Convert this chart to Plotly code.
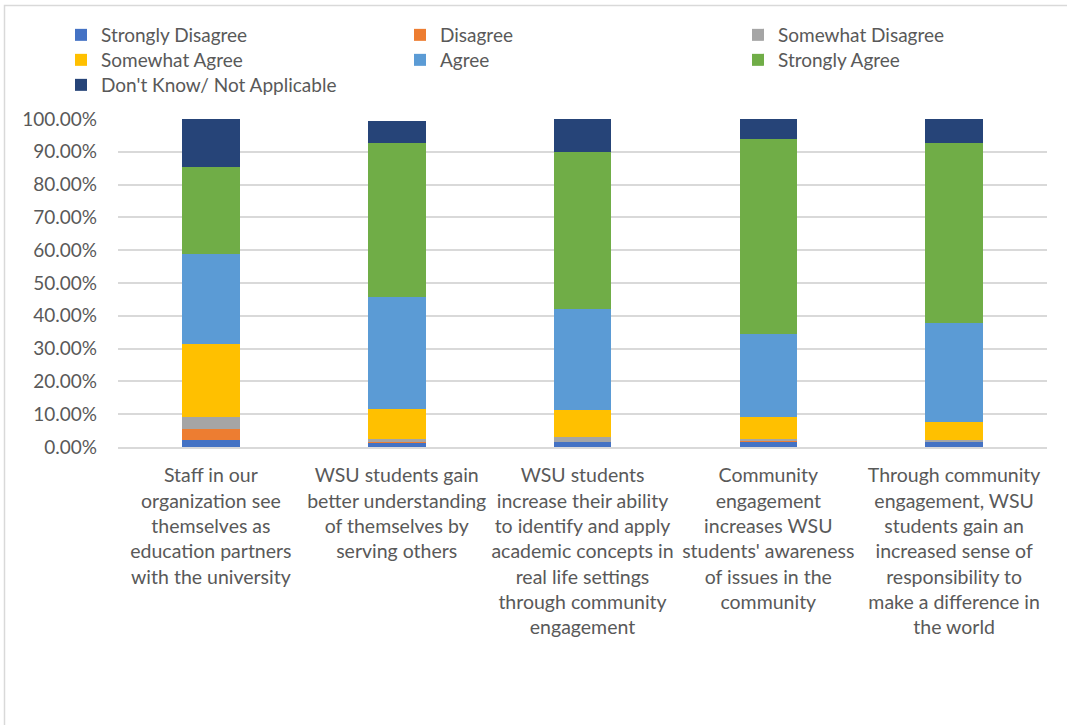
import plotly.graph_objects as go

# Survey statements (x categories)
categories = [
    "Staff in our<br>organization see<br>themselves as<br>education partners<br>with the university",
    "WSU students gain<br>better understanding<br>of themselves by<br>serving others",
    "WSU students<br>increase their ability<br>to identify and apply<br>academic concepts in<br>real life settings<br>through community<br>engagement",
    "Community<br>engagement<br>increases WSU<br>students' awareness<br>of issues in the<br>community",
    "Through community<br>engagement, WSU<br>students gain an<br>increased sense of<br>responsibility to<br>make a difference in<br>the world",
]

# Share of responses per statement (percent)
strongly_disagree = [2.2, 1.3, 1.6, 1.6, 1.6]
disagree = [3.2, 0.5, 0.0, 0.3, 0.0]
somewhat_disagree = [3.6, 0.5, 1.5, 0.6, 0.6]
somewhat_agree = [22.5, 9.2, 8.2, 6.7, 5.5]
agree = [27.4, 34.2, 30.8, 25.4, 30.1]
strongly_agree = [26.4, 47.0, 47.8, 59.4, 54.8]
dont_know = [14.7, 6.7, 10.1, 6.0, 7.4]

series = [
    ("Strongly Disagree", strongly_disagree, "#4472C4"),
    ("Disagree", disagree, "#ED7D31"),
    ("Somewhat Disagree", somewhat_disagree, "#A5A5A5"),
    ("Somewhat Agree", somewhat_agree, "#FFC000"),
    ("Agree", agree, "#5B9BD5"),
    ("Strongly Agree", strongly_agree, "#70AD47"),
    ("Don't Know/ Not Applicable", dont_know, "#264478"),
]

FONT = "Lato"
TXT = "#595959"

# plot-area pixel geometry
W, H = 1067, 725
L, R, T, B = 118, 20, 119, 278
pw, ph = W - L - R, H - T - B


def px_x(p):
    return (p - L) / pw


def px_y(p):
    return (H - B - p) / ph


# legend grid: three columns, rows wrap left to right
col_left = [61, 400, 738]
row_top = [16, 41, 66]

fig = go.Figure()
legends = {}
for i, (name, vals, color) in enumerate(series):
    key = "legend" if i == 0 else f"legend{i + 1}"
    fig.add_trace(go.Bar(
        name=name,
        x=categories,
        y=[v / 100 for v in vals],
        marker=dict(color=color, line=dict(width=0)),
        legend=key,
        showlegend=True,
    ))
    legends[key] = dict(
        orientation="v",
        x=px_x(col_left[i % 3]), y=px_y(row_top[i // 3]),
        xanchor="left", yanchor="top",
        font=dict(family=FONT, size=19, color=TXT),
        itemwidth=30,
        bgcolor="rgba(0,0,0,0)",
    )

fig.update_layout(
    width=W, height=H,
    showlegend=True,
    barmode="stack",
    bargap=0.69,
    plot_bgcolor="white",
    paper_bgcolor="white",
    margin=dict(l=L, r=R, t=T, b=B, pad=0),
    font=dict(family=FONT, color=TXT, size=17),
    xaxis=dict(
        showgrid=False,
        showline=True, linecolor="#d9d9d9", linewidth=1.5,
        ticks="", tickangle=0,
        tickfont=dict(family=FONT, size=19.5, color=TXT),
        ticklabelstandoff=10,
    ),
    yaxis=dict(
        range=[0, 1], dtick=0.1, tickformat=".2%",
        showgrid=True, gridcolor="#d9d9d9", gridwidth=1.5,
        zeroline=False, showline=False,
        ticks="", tickfont=dict(family=FONT, size=19, color=TXT),
        ticklabelstandoff=20,
    ),
    shapes=[dict(
        type="rect", xref="paper", yref="paper",
        x0=px_x(4.5), y0=px_y(760), x1=px_x(1100), y1=px_y(5.5),
        line=dict(color="#d9d9d9", width=1.5), fillcolor="rgba(0,0,0,0)",
        layer="below",
    )],
    **legends,
)

fig.write_html("out.html")
